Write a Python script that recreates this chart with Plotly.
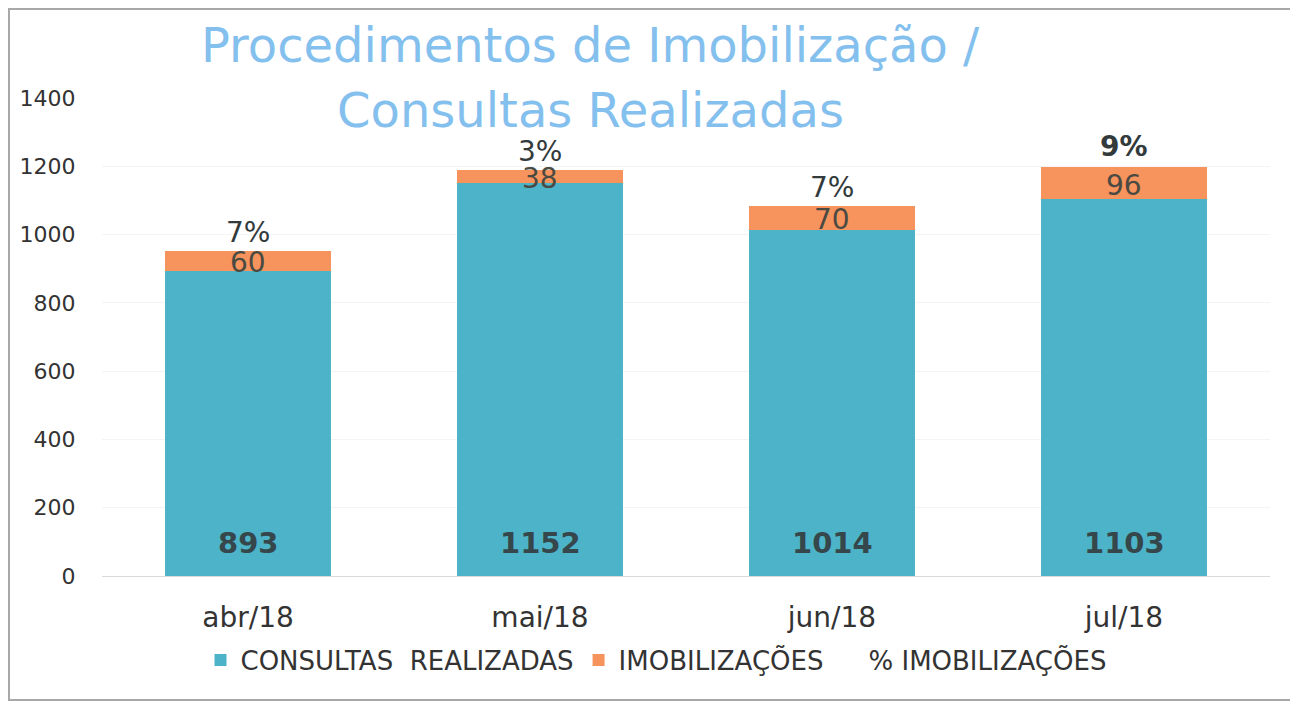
import plotly.graph_objects as go

months = ["abr/18", "mai/18", "jun/18", "jul/18"]
consultas = [893, 1152, 1014, 1103]
imobilizacoes = [60, 38, 70, 96]
pct_imob = [7, 3, 7, 9]
y_ticks = [0, 200, 400, 600, 800, 1000, 1200, 1400]
title_lines = ["Procedimentos de Imobilização /", "Consultas Realizadas"]

FONT = "'DejaVu Sans', Verdana, sans-serif"
TEAL = "#4db3c9"
ORANGE = "#f7935c"
DARK = "#333a3c"

# the page body has an 8px margin, so the figure is drawn 8px lower/right
W, H = 1290, 699
L, R, T, B = 94, 28, 90, 131
pw, ph = W - L - R, H - T - B

fig = go.Figure()

fig.add_trace(go.Bar(
    x=months, y=consultas, name="CONSULTAS  REALIZADAS",
    marker=dict(color=TEAL, line=dict(width=0)),
    hovertemplate="%{x}: %{y}<extra></extra>",
))
fig.add_trace(go.Bar(
    x=months, y=imobilizacoes, name="IMOBILIZAÇÕES",
    marker=dict(color=ORANGE, line=dict(width=0)),
    hovertemplate="%{x}: %{y}<extra></extra>",
))
# legend entry of the percentage series (text only)
fig.add_trace(go.Scatter(
    x=months, y=[c + i for c, i in zip(consultas, imobilizacoes)],
    mode="markers", name="% IMOBILIZAÇÕES",
    marker=dict(color="rgba(0,0,0,0)", size=1),
    hoverinfo="skip",
))

annotations = []
for m, c, i, p in zip(months, consultas, imobilizacoes, pct_imob):
    # consultas value near the bar base
    annotations.append(dict(
        x=m, y=0, yshift=33, text=f"<b>{c}</b>", showarrow=False,
        yanchor="middle", font=dict(family=FONT, size=29, color="#35474b"),
    ))
    # imobilizações value in the orange segment
    annotations.append(dict(
        x=m, y=c + i / 2, yshift=-2, text=str(i), showarrow=False,
        yanchor="middle", font=dict(family=FONT, size=28, color="#4a4a42"),
    ))
    # percentage above the bar
    bold = p == max(pct_imob)
    annotations.append(dict(
        x=m, y=c + i, yshift=18 if not bold else 20,
        text=f"<b>{p}%</b>" if bold else f"{p}%", showarrow=False,
        yanchor="middle", font=dict(family=FONT, size=28, color=DARK),
    ))

# title lines
for k, line in enumerate(title_lines):
    annotations.append(dict(
        xref="paper", yref="paper", x=(582 - L) / pw, y=1 + (T - (37 + 65 * k)) / ph,
        text=line, showarrow=False, xanchor="center", yanchor="middle",
        font=dict(family=FONT, size=48, color="#84c0ee"),
    ))

fig.update_layout(
    width=W, height=H,
    margin=dict(l=L, r=R, t=T, b=B, autoexpand=False),
    barmode="stack", bargap=0.43,
    plot_bgcolor="white", paper_bgcolor="white",
    font=dict(family=FONT, color="#3a3a3a"),
    annotations=annotations,
    xaxis=dict(
        tickfont=dict(family=FONT, size=28, color="#333"),
        showline=True, linecolor="#d9d9d9", linewidth=1,
        ticks="outside", ticklen=16, tickcolor="rgba(0,0,0,0)", showgrid=False,
    ),
    yaxis=dict(
        range=[0, 1400], tickvals=y_ticks,
        tickfont=dict(family=FONT, size=22, color="#333"),
        showgrid=True, gridcolor="#f4f4f4", zeroline=False,
        showline=False, ticks="outside", ticklen=21, tickcolor="rgba(0,0,0,0)",
    ),
    legend=dict(
        orientation="h", x=(648 - L) / pw, xanchor="center",
        y=-(652 - T - ph) / ph, yanchor="middle",
        font=dict(family=FONT, size=26, color="#333"),
        traceorder="normal",
    ),
    showlegend=True,
)

# outer frame of the chart
fig.add_shape(type="rect", xref="paper", yref="paper",
              x0=(1 - L) / pw, x1=(1283 - L) / pw,
              y0=1 - (692 - T) / ph, y1=1 - (1 - T) / ph,
              line=dict(color="#a8a8a8", width=2), fillcolor="rgba(0,0,0,0)",
              layer="below")

fig.write_html("out.html")
